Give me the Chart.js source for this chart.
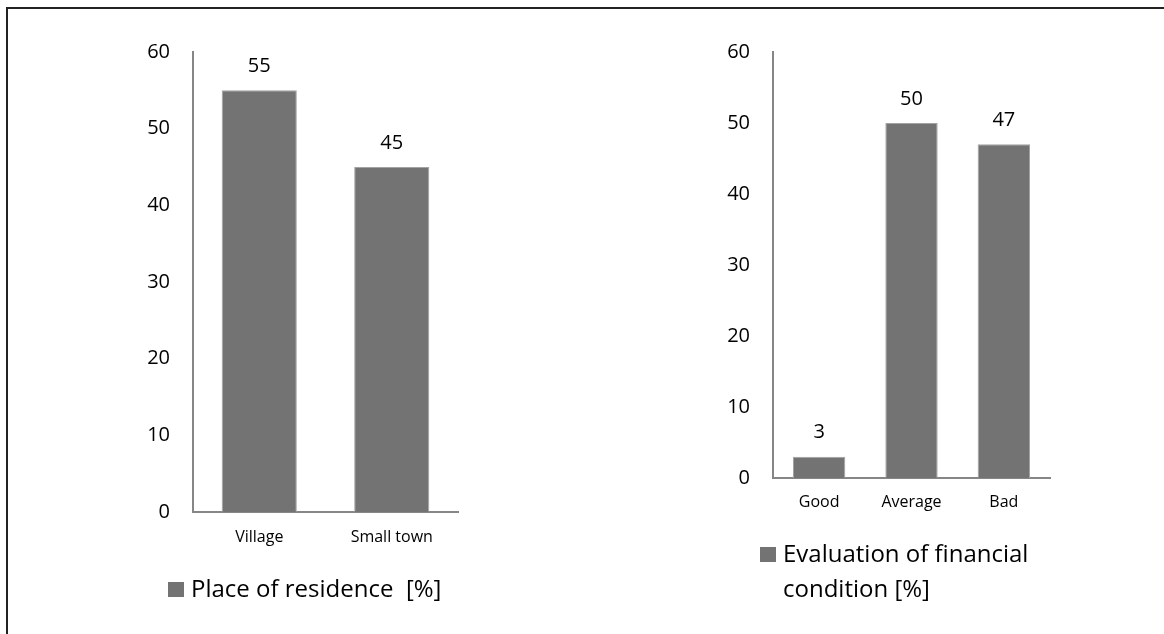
<!DOCTYPE html>
<html>
<head>
<meta charset="utf-8">
<script src="https://cdn.jsdelivr.net/npm/chart.js@4/dist/chart.umd.min.js"></script>
<style>
  html, body { margin: 0; padding: 0; background: #fff; overflow: hidden; }
  #frame { position: absolute; left: 6px; top: 7px; width: 1200px; height: 700px; border: 2px solid #222; }
  canvas { position: absolute; left: 0; top: 0; }
</style>
</head>
<body>
<div id="frame"></div>
<canvas id="residence" width="1164" height="634"></canvas>
<canvas id="condition" width="1164" height="634"></canvas>
<script>
'use strict';

// data
const residenceLabels = ['Village', 'Small town'];
const residenceValues = [55, 45];
const residenceLegend = ['Place of residence  [%]'];

const conditionLabels = ['Good', 'Average', 'Bad'];
const conditionValues = [3, 50, 47];
const conditionLegend = ['Evaluation of financial', 'condition [%]'];

const yMin = 0;
const yMax = 60;
const yStep = 10;

const BAR = '#737373';
const AXIS = '#868686';
const FONT = "'Open Sans', 'DejaVu Sans', sans-serif";

// value above each bar
const valueLabels = {
  id: 'valueLabels',
  afterDatasetsDraw(chart) {
    const ctx = chart.ctx;
    const meta = chart.getDatasetMeta(0);
    ctx.save();
    ctx.font = '20px ' + FONT;
    ctx.fillStyle = '#000';
    ctx.textAlign = 'center';
    ctx.textBaseline = 'middle';
    meta.data.forEach((bar, i) => {
      ctx.fillText(String(chart.data.datasets[0].data[i]), bar.x, bar.y - 24);
    });
    ctx.restore();
  }
};

// legend drawn under the chart, text may span several lines
const boxLegend = {
  id: 'boxLegend',
  afterDraw(chart, args, opts) {
    const ctx = chart.ctx;
    const ds = chart.data.datasets[0];
    ctx.save();
    ctx.fillStyle = ds.backgroundColor;
    ctx.fillRect(opts.x, opts.y, 16, 15);
    ctx.font = '24px ' + FONT;
    ctx.fillStyle = '#000';
    ctx.textAlign = 'left';
    ctx.textBaseline = 'alphabetic';
    opts.lines.forEach((line, i) => {
      ctx.fillText(line, opts.x + 23, opts.y + 15 + i * 35);
    });
    ctx.restore();
  }
};

function makeChart(id, labels, values, legendLines, padding, tickPad, legendPos) {
  const ctx = document.getElementById(id).getContext('2d');
  return new Chart(ctx, {
    type: 'bar',
    data: {
      labels: labels,
      datasets: [{
        label: legendLines.join(' '),
        data: values,
        backgroundColor: BAR,
        borderColor: '#a3a3a3',
        borderWidth: 1,
        categoryPercentage: 1,
        barPercentage: 0.567
      }]
    },
    plugins: [valueLabels, boxLegend],
    options: {
      responsive: false,
      animation: false,
      layout: { padding: padding },
      plugins: {
        legend: { display: false },
        title: { display: false },
        tooltip: { enabled: false },
        boxLegend: { x: legendPos[0], y: legendPos[1], lines: legendLines }
      },
      scales: {
        x: {
          grid: { display: false, drawTicks: false },
          border: { display: true, color: AXIS, width: 2 },
          ticks: { color: '#000', font: { family: FONT, size: 16 }, padding: tickPad, maxRotation: 0 },
          afterFit(scale) { scale.height = 40; }
        },
        y: {
          min: yMin,
          max: yMax,
          grid: { display: false, drawTicks: false },
          border: { display: true, color: AXIS, width: 2 },
          ticks: { stepSize: yStep, color: '#000', font: { family: FONT, size: 20 }, padding: 23 },
          afterFit(scale) { scale.width = 60; }
        }
      }
    }
  });
}

makeChart('residence', residenceLabels, residenceValues, residenceLegend,
  { left: 133, right: 706, top: 52, bottom: 82 }, 16, [168, 582]);

makeChart('condition', conditionLabels, conditionValues, conditionLegend,
  { left: 713, right: 114, top: 52, bottom: 116 }, 15, [760, 547]);
</script>
</body>
</html>
